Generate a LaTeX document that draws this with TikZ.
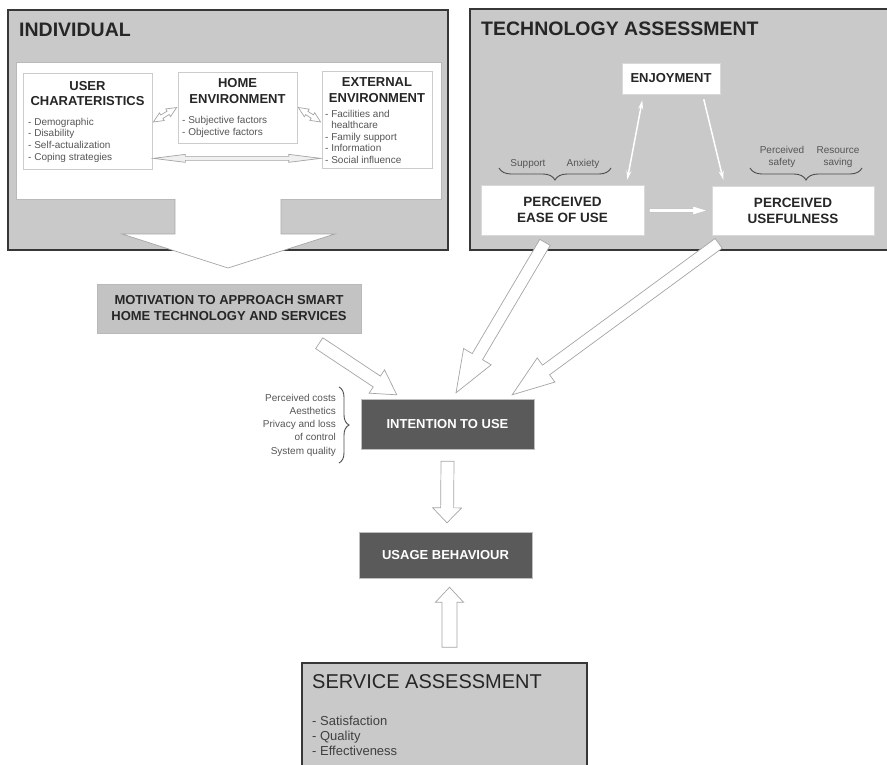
\documentclass[tikz,border=0pt]{standalone}
\usepackage{fontspec}
\setmainfont{Liberation Sans}
\usetikzlibrary{calc,positioning,arrows.meta,decorations.pathreplacing}

\definecolor{panelgray}{RGB}{201,201,201}
\definecolor{panelline}{RGB}{55,55,55}
\definecolor{motivgray}{RGB}{195,195,195}
\definecolor{darkfill}{RGB}{90,90,90}
\definecolor{itemtext}{RGB}{85,85,85}
\definecolor{arrowline}{RGB}{165,165,165}

% hollow block arrow: [style]{tail}{tip}{half shaft}{half head}{head length}
\newcommand\blockarrow[6][]{%
  \coordinate (ba-h) at ($(#3)!#6!(#2)$);
  \filldraw[blockarr,#1] ($(#2)!#4!90:(#3)$) -- ($(ba-h)!#4!-90:(#2)$)
    -- ($(ba-h)!#5!-90:(#2)$) -- (#3) -- ($(ba-h)!#5!90:(#2)$)
    -- ($(ba-h)!#4!90:(#2)$) -- ($(#2)!#4!-90:(#3)$) -- cycle;
}
% same with a head at both ends
\newcommand\twowayarrow[6][]{%
  \coordinate (tw-h1) at ($(#2)!#6!(#3)$);
  \coordinate (tw-h2) at ($(#3)!#6!(#2)$);
  \filldraw[blockarr,#1] (#2) -- ($(tw-h1)!#5!90:(#3)$) -- ($(tw-h1)!#4!90:(#3)$)
    -- ($(tw-h2)!#4!-90:(#2)$) -- ($(tw-h2)!#5!-90:(#2)$) -- (#3)
    -- ($(tw-h2)!#5!90:(#2)$) -- ($(tw-h2)!#4!90:(#2)$)
    -- ($(tw-h1)!#4!-90:(#3)$) -- ($(tw-h1)!#5!-90:(#3)$) -- cycle;
}

\tikzset{
  panel/.style={draw=panelline, line width=1.6pt, fill=panelgray, inner sep=0pt},
  paneltitle/.style={anchor=base west, inner sep=0pt, text=black!85,
    font=\bfseries\fontsize{19.5}{22}\selectfont},
  whitebox/.style={draw=gray!40, fill=white, line width=0.7pt, inner sep=0pt},
  boxtitle/.style={anchor=north, inner sep=0pt, align=center, text=black!85,
    font=\bfseries\fontsize{13}{15.5}\selectfont},
  itemlist/.style={anchor=north west, inner sep=0pt, align=left, text=itemtext,
    font=\fontsize{10}{11.6}\selectfont},
  smalllabel/.style={inner sep=0pt, align=center, text=itemtext,
    font=\fontsize{10}{11.5}\selectfont},
  darkbox/.style={draw=gray!50, fill=darkfill, text=white, inner sep=0pt,
    font=\bfseries\fontsize{13}{15}\selectfont},
  blockarr/.style={fill=white, draw=arrowline, line width=0.7pt, line join=miter},
  thinarr/.style={draw=white, line width=1.5pt, >={Stealth[length=9pt,width=5pt]}},
  bracestyle/.style={decorate, decoration={brace, amplitude=12pt}, draw=black!70,
    line width=0.9pt},
}

\begin{document}
\begin{tikzpicture}[x=1pt, y=-1pt]
  \useasboundingbox (0,0) rectangle (887,764);

  % --- individual ---
  \node[panel, minimum width=440pt, minimum height=240pt] (indiv) at (228,130) {};
  \node[paneltitle] (indivtitle) at (19,36) {INDIVIDUAL};
  \node[whitebox, draw=gray!55, minimum width=425pt, minimum height=137pt] (inner) at (228.5,130.5) {};

  \node[whitebox, minimum width=129pt, minimum height=96pt] (user) at (87.5,121) {};
  \node[boxtitle] (usertitle) at (87.5,80.8) {USER\\CHARATERISTICS};
  \node[itemlist] (useritems) at (28,117.8)
    {- Demographic\\- Disability\\- Self-actualization\\- Coping strategies};

  \node[whitebox, minimum width=119pt, minimum height=71pt] (home) at (237.5,107.5) {};
  \node[boxtitle, font=\bfseries\fontsize{13}{16}\selectfont] (hometitle) at (237.5,78.7) {HOME\\ENVIRONMENT};
  \node[itemlist, font=\fontsize{10}{12}\selectfont] (homeitems) at (182,115.7)
    {- Subjective factors\\- Objective factors};

  \node[whitebox, minimum width=110pt, minimum height=97pt] (ext) at (377,119.5) {};
  \node[boxtitle] (exttitle) at (377,77.7) {EXTERNAL\\ENVIRONMENT};
  \node[itemlist] (extitems) at (325,109.7)
    {- Facilities and\\\phantom{- }healthcare\\- Family support\\- Information\\- Social influence};

  \coordinate (uh-a) at ($(user.east)+(1,1)$);
  \coordinate (uh-b) at ($(home.west)+(-1,0)$);
  \coordinate (he-a) at ($(home.east)+(1,0)$);
  \coordinate (he-b) at ($(ext.west)+(-1,2.5)$);
  \coordinate (ue-a) at ($(user.south east)+(1,-11)$);
  \coordinate (ue-b) at ($(ext.south west)+(-1,-10)$);
  \twowayarrow{uh-a}{uh-b}{2pt}{4.5pt}{10pt}
  \twowayarrow{he-a}{he-b}{2pt}{4.5pt}{10pt}
  \twowayarrow[fill=gray!12]{ue-a}{ue-b}{2pt}{4pt}{32pt}

  % big arrow out of the panel
  \fill[white] (175.6,197) rectangle (280.4,236);
  \filldraw[blockarr] (175,199) -- (175,234) -- (122,234) -- (228,268)
    -- (335,234) -- (281,234) -- (281,199);

  % --- motivation ---
  \node[draw=gray!55, fill=motivgray, minimum width=264pt, minimum height=49pt,
    inner sep=0pt, align=center, text=black!85,
    font=\bfseries\fontsize{13}{16}\selectfont] (motiv) at (229,308.5)
    {MOTIVATION TO APPROACH SMART\\HOME TECHNOLOGY AND SERVICES};

  % --- technology assessment ---
  \node[panel, minimum width=425pt, minimum height=241pt] (tech) at (682.5,129.5) {};
  \node[paneltitle] (techtitle) at (481,35) {TECHNOLOGY ASSESSMENT};
  \node[whitebox, draw=gray!30, minimum width=98pt, minimum height=31pt,
    font=\bfseries\fontsize{13}{15}\selectfont, text=black!85] (enjoy) at (671,78.5) {ENJOYMENT};
  \node[whitebox, draw=gray!30, minimum width=163pt, minimum height=50pt, align=center,
    font=\bfseries\fontsize{13.5}{16}\selectfont, text=black!85] (peou) at (562.5,210) {PERCEIVED\\EASE OF USE};
  \node[whitebox, draw=gray!30, minimum width=162pt, minimum height=49pt, align=center,
    font=\bfseries\fontsize{13.5}{16}\selectfont, text=black!85] (pu) at (793,210.5) {PERCEIVED\\USEFULNESS};

  \node[smalllabel, anchor=base] (support) at (528,166.5) {Support};
  \node[smalllabel, anchor=base] (anxiety) at (583,166.5) {Anxiety};
  \node[smalllabel, anchor=north] (safety) at (782,146.5) {Perceived\\safety};
  \node[smalllabel, anchor=north] (saving) at (838,146.5) {Resource\\saving};
  \draw[bracestyle] (611,168) -- (499,168);
  \draw[bracestyle] (862,168) -- (750,168);

  \draw[thinarr, <->, shorten <=6pt, shorten >=5pt]
    ($(enjoy.south west)!0.22!(enjoy.south east)$) -- ($(peou.north west)!0.89!(peou.north east)$);
  \draw[thinarr, ->, shorten <=5pt, shorten >=6pt]
    ($(enjoy.south west)!0.82!(enjoy.south east)$) -- ($(pu.north west)!0.08!(pu.north east)$);
  \coordinate (ep-a) at ($(peou.east)+(5,0.5)$);
  \coordinate (ep-b) at ($(pu.west)+(-4,0)$);
  \blockarrow[draw=gray!45]{ep-a}{ep-b}{2pt}{4.5pt}{15pt}

  % --- intention and usage ---
  \node[darkbox, minimum width=173pt, minimum height=50pt] (intention) at (447.5,424) {INTENTION TO USE};
  \node[darkbox, minimum width=173pt, minimum height=46pt] (usage) at (445.5,555) {USAGE BEHAVIOUR};
  \node[itemlist, anchor=north east, align=right, font=\fontsize{10}{13.25}\selectfont] (costs)
    at (336,393.7) {Perceived costs\\Aesthetics\\Privacy and loss\\of control\\System quality};
  \draw[bracestyle, decoration={brace, amplitude=10pt}] (339,387) -- (339,463);

  \coordinate (mo-a) at ($(motiv.south east)+(-42,10)$);
  \coordinate (mo-b) at ($(intention.north west)+(36,-4)$);
  \coordinate (pe-a) at ($(peou.south)+(-17.5,7)$);
  \coordinate (pe-b) at ($(intention.north)+(8.5,-6)$);
  \coordinate (pu-a) at ($(pu.south west)+(7,8)$);
  \coordinate (pu-b) at ($(intention.north east)+(-22,-4)$);
  \blockarrow{mo-a}{mo-b}{6.5pt}{14pt}{24pt}
  \blockarrow{pe-a}{pe-b}{6pt}{16pt}{42pt}
  \blockarrow{pu-a}{pu-b}{6pt}{15pt}{42pt}

  \coordinate (iu-a) at ($(intention.south)+(0,12)$);
  \coordinate (iu-b) at ($(usage.north)+(1.5,-9)$);
  \blockarrow{iu-a}{iu-b}{6.5pt}{14.5pt}{15pt}

  % --- service assessment ---
  \node[panel, line width=1.4pt, minimum width=285pt, minimum height=117pt] (service) at (444.5,721.5) {};
  \node[paneltitle, font=\fontsize{20}{22}\selectfont] (servtitle) at (312,688) {SERVICE ASSESSMENT};
  \node[itemlist, text=black!75, font=\fontsize{13}{15}\selectfont] (servitems) at (312,715.5)
    {- Satisfaction\\- Quality\\- Effectiveness};

  \coordinate (su-a) at ($(service.north)+(5,-15)$);
  \coordinate (su-b) at ($(usage.south)+(4,9)$);
  \blockarrow{su-a}{su-b}{7.5pt}{14pt}{15pt}
\end{tikzpicture}
\end{document}
